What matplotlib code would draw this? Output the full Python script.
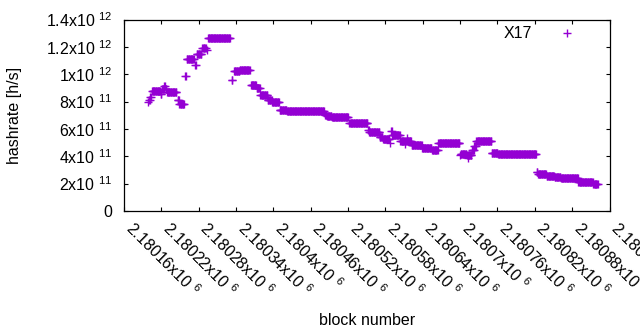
#!/usr/bin/env python3
"""
Hashrate per block for the X17 algorithm (gnuplot-like look)
Runs of equal hashrate are stored as start/end block + value
"""
import numpy as np
import matplotlib
matplotlib.use("Agg")
import matplotlib.pyplot as plt

# Runs of constant hashrate: first block, last block, value (x1e11 h/s)
run_start = [2180198, 2180200, 2180202, 2180205, 2180219, 2180221, 2180225, 2180227,
             2180229, 2180246, 2180249, 2180258, 2180261, 2180274, 2180277, 2180286,
             2180293, 2180295, 2180333, 2180337, 2180346, 2180364, 2180373, 2180379,
             2180391, 2180398, 2180410, 2180422, 2180483, 2180486, 2180494, 2180522,
             2180552, 2180554, 2180571, 2180576, 2180587, 2180589, 2180591, 2180604,
             2180611, 2180612, 2180614, 2180615, 2180622, 2180639, 2180655, 2180665,
             2180700, 2180701, 2180711, 2180713, 2180714, 2180719, 2180723, 2180726,
             2180751, 2180761, 2180823, 2180825, 2180839, 2180852, 2180862, 2180890,
             2180914]
run_end = [2180198, 2180201, 2180203, 2180218, 2180220, 2180224, 2180226, 2180228,
           2180244, 2180248, 2180256, 2180259, 2180272, 2180275, 2180284, 2180291,
           2180293, 2180330, 2180334, 2180345, 2180362, 2180372, 2180378, 2180390,
           2180397, 2180409, 2180421, 2180481, 2180485, 2180493, 2180520, 2180551,
           2180553, 2180570, 2180575, 2180586, 2180587, 2180590, 2180603, 2180610,
           2180611, 2180613, 2180614, 2180621, 2180638, 2180654, 2180664, 2180699,
           2180700, 2180710, 2180712, 2180713, 2180718, 2180722, 2180725, 2180750,
           2180760, 2180822, 2180824, 2180838, 2180851, 2180861, 2180889, 2180913,
           2180921]
run_value = [8.00, 8.15, 8.35, 8.80, 8.55, 8.95, 9.15, 8.95,
             8.70, 8.10, 7.80, 9.85, 11.1, 10.7, 11.5, 11.9,
             11.75, 12.66, 9.60, 10.2, 10.32, 9.24, 8.98, 8.45,
             8.15, 7.96, 7.38, 7.29, 7.00, 6.95, 6.85, 6.40,
             5.90, 5.75, 5.43, 5.30, 4.95, 5.85, 5.57, 5.15,
             4.90, 5.15, 5.35, 5.15, 4.82, 4.58, 4.45, 4.94,
             4.10, 4.20, 4.10, 3.85, 4.10, 4.45, 4.75, 5.10,
             4.24, 4.15, 2.83, 2.72, 2.59, 2.47, 2.39, 2.14,
             1.97]

series_label = "X17"
x_ticks = np.arange(2180160, 2180941, 60)
y_ticks = np.arange(0, 1.41e12, 2e11)

plt.rcParams['font.family'] = ['Liberation Sans', 'DejaVu Sans']
FS = 11.5
PURPLE = '#9400d3'


def sci_label(v):
    """gnuplot style 'mantissa x10^exp' label"""
    if v == 0:
        return '0'
    exp = int(np.floor(np.log10(abs(v)) + 1e-9))
    mant = v / 10 ** exp
    return f'{mant:g}x10 ' + r'$^{\mathregular{%d}}$' % exp


# expand runs into one point per block
blocks = np.concatenate([np.arange(s, e + 1) for s, e in zip(run_start, run_end)])
lengths = [e - s + 1 for s, e in zip(run_start, run_end)]
hashrate = np.repeat(np.array(run_value) * 1e11, lengths)

fig = plt.figure(figsize=(6.4, 3.3), dpi=100)
ax = fig.add_axes([124 / 640, 1 - 211 / 330, 485.5 / 640, 191.5 / 330])

ax.plot(blocks, hashrate, linestyle='none', marker='+', markersize=5.5,
        markeredgewidth=1.0, color=PURPLE, label=series_label)

ax.set_xlim(x_ticks[0], x_ticks[-1])
ax.set_ylim(0, 1.4e12)
ax.set_xticks(x_ticks)
ax.set_yticks(y_ticks)
ax.set_xticklabels([sci_label(t) for t in x_ticks])
ax.set_yticklabels([sci_label(t) for t in y_ticks])

ax.tick_params(which='both', direction='in', top=True, right=True,
               length=3, width=0.8, labelsize=FS, colors='black')
ax.tick_params(axis='y', pad=8.5)
ax.tick_params(axis='x', pad=13.5)
plt.setp(ax.get_xticklabels(), rotation=-45, ha='left', va='baseline',
         rotation_mode='anchor')
for sp in ax.spines.values():
    sp.set_linewidth(0.9)

ax.set_xlabel('block number', fontsize=FS)
ax.xaxis.set_label_coords(0.5, -0.535)
ax.set_ylabel('hashrate [h/s]', fontsize=FS)
ax.yaxis.set_label_coords(-0.21, 0.5)

ax.legend(loc='upper right', bbox_to_anchor=(0.945, 0.965), frameon=False,
          markerfirst=False, fontsize=FS, borderpad=0, borderaxespad=0,
          handlelength=2.0, handletextpad=1.2)

plt.savefig('out.png', dpi=100)
